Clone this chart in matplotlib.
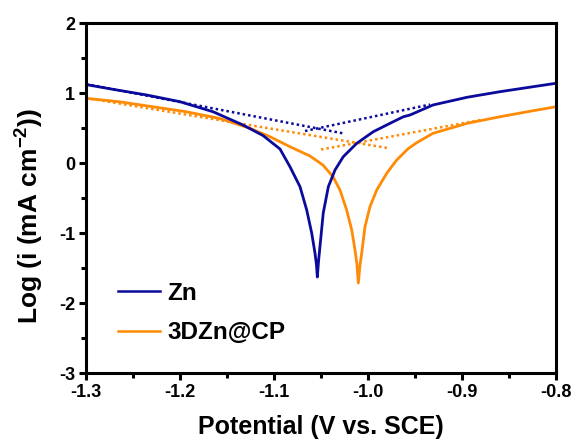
import matplotlib
matplotlib.use("Agg")
import matplotlib.pyplot as plt
from matplotlib.ticker import MultipleLocator

plt.rcParams['font.family'] = ['Liberation Sans', 'DejaVu Sans']
plt.rcParams['font.weight'] = 'bold'
plt.rcParams['mathtext.fontset'] = 'custom'
plt.rcParams['mathtext.bf'] = 'Liberation Sans:bold'
plt.rcParams['mathtext.rm'] = 'Liberation Sans:bold'

# Tafel curves (potential in V vs. SCE, log current)
zn_v = [-1.3, -1.2713, -1.2351, -1.2, -1.1649, -1.133, -1.1117, -1.0936, -1.083,
        -1.0723, -1.0652, -1.0599, -1.0564, -1.0548, -1.0539, -1.0527, -1.0511,
        -1.0476, -1.0422, -1.0351, -1.0263, -1.012, -0.9944, -0.9766, -0.9624,
        -0.9553, -0.9309, -0.8947, -0.8596, -0.8245, -0.8]
zn_log = [1.121, 1.053, 0.971, 0.876, 0.733, 0.543, 0.393, 0.2, -0.053,
          -0.339, -0.671, -1.0, -1.286, -1.457, -1.629, -1.414, -1.196,
          -0.714, -0.339, -0.1, 0.09, 0.281, 0.447, 0.567, 0.661,
          0.686, 0.829, 0.939, 1.019, 1.09, 1.139]

cp_v = [-1.3, -1.2649, -1.229, -1.1936, -1.1585, -1.1255, -1.1043, -1.083, -1.0617,
        -1.0479, -1.0372, -1.0298, -1.0227, -1.0173, -1.0138, -1.0117, -1.0103,
        -1.0085, -1.0067, -1.0032, -0.9979, -0.9907, -0.9801, -0.9695, -0.9571,
        -0.9482, -0.9309, -0.8947, -0.8596, -0.8245, -0.8]
cp_log = [0.924, 0.876, 0.804, 0.733, 0.639, 0.496, 0.376, 0.233, 0.1,
          -0.029, -0.196, -0.386, -0.671, -0.957, -1.243, -1.457, -1.714,
          -1.457, -1.29, -0.91, -0.624, -0.386, -0.147, 0.043, 0.207,
          0.29, 0.424, 0.567, 0.661, 0.747, 0.804]

# Tafel fit lines (start / end points)
zn_cath_v, zn_cath_log = [-1.3, -1.0266], [1.129, 0.424]
zn_anod_v, zn_anod_log = [-1.067, -0.934], [0.457, 0.836]
cp_cath_v, cp_cath_log = [-1.3, -0.9787], [0.929, 0.214]
cp_anod_v, cp_anod_log = [-1.05, -0.8809], [0.193, 0.614]

blue = '#0a0a9c'
orange = '#ff8a05'

fig = plt.figure(figsize=(5.78, 4.43), dpi=100)
ax = fig.add_axes([0.1488, 0.158, 0.8131, 0.790])

dot = (0, (1, 1.2))
ax.plot(zn_cath_v, zn_cath_log, color=blue, lw=1.8, ls=dot)
ax.plot(zn_anod_v, zn_anod_log, color=blue, lw=1.8, ls=dot)
ax.plot(cp_cath_v, cp_cath_log, color=orange, lw=1.8, ls=dot)
ax.plot(cp_anod_v, cp_anod_log, color=orange, lw=1.8, ls=dot)

ax.plot(cp_v, cp_log, color=orange, lw=2.0, label='3DZn@CP')
ax.plot(zn_v, zn_log, color=blue, lw=2.0, label='Zn')

ax.set_xlim(-1.3, -0.8)
ax.set_ylim(-3, 2)
ax.xaxis.set_major_locator(MultipleLocator(0.1))
ax.xaxis.set_minor_locator(MultipleLocator(0.05))
ax.yaxis.set_major_locator(MultipleLocator(1))
ax.yaxis.set_minor_locator(MultipleLocator(0.5))
ax.set_xticklabels([f'{v:.1f}' for v in ax.get_xticks()])
ax.set_yticks([-3, -2, -1, 0, 1, 2])
ax.set_yticklabels(['-3', '-2', '-1', '0', '1', '2'])

for s in ax.spines.values():
    s.set_linewidth(2.2)
ax.tick_params(which='major', direction='out', length=5, width=2.2, labelsize=13, pad=3)
ax.tick_params(which='minor', direction='out', length=3.5, width=2.2)

ax.set_xlabel('Potential (V vs. SCE)', fontsize=18, fontweight='bold', labelpad=10)
ax.set_ylabel(r'Log (i (mA cm$^{\mathbf{-2}}$))', fontsize=19, fontweight='bold')
ax.yaxis.set_label_coords(-0.088, 0.45)

h, l = ax.get_legend_handles_labels()
leg = ax.legend(h[::-1], l[::-1], loc='lower left', bbox_to_anchor=(0.021, 0.02),
                frameon=False, fontsize=17.5, handlelength=1.75, labelspacing=0.68,
                handletextpad=0.3)
for line in leg.get_lines():
    line.set_linewidth(1.8)

fig.savefig('out.png', dpi=100)
